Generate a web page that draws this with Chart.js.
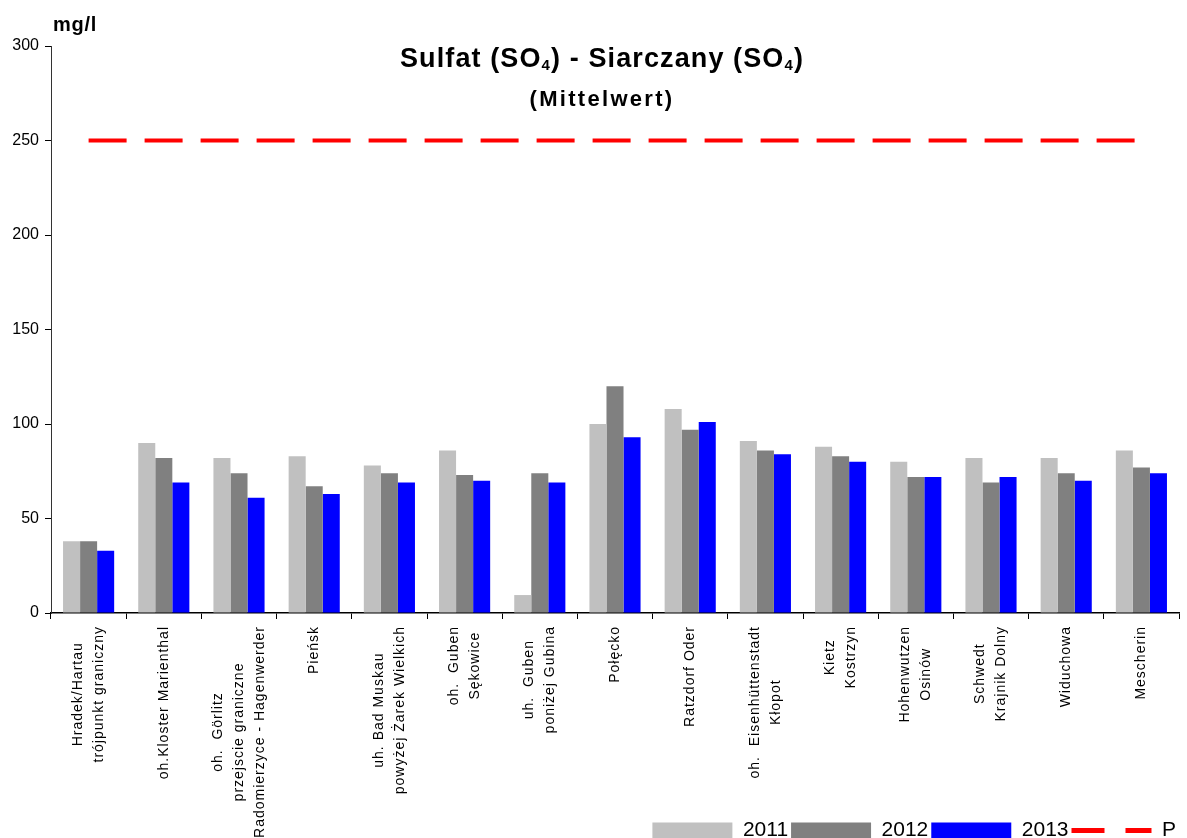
<!DOCTYPE html>
<html>
<head>
<meta charset="utf-8">
<script src="https://cdn.jsdelivr.net/npm/chart.js@4"></script>
<style>
  html, body { margin: 0; padding: 0; overflow: hidden; background: #fff; }
  #wrap { width: 1187px; height: 851px; }
</style>
</head>
<body>
<div id="wrap"><canvas id="myChart"></canvas></div>
<script>
// station names (one entry per line of the label)
var stations = [
  ["Hradek/Hartau", "trójpunkt graniczny"],
  ["oh.Kloster Marienthal"],
  ["oh.  Görlitz", "przejscie graniczne", "Radomierzyce - Hagenwerder"],
  ["Pieńsk"],
  ["uh. Bad Muskau", "powyżej Żarek Wielkich"],
  ["oh.  Guben", "Sękowice"],
  ["uh.  Guben", "poniżej Gubina"],
  ["Połęcko"],
  ["Ratzdorf Oder"],
  ["oh.  Eisenhüttenstadt", "Kłopot"],
  ["Kietz", "Kostrzyn"],
  ["Hohenwutzen", "Osinów"],
  ["Schwedt", "Krajnik Dolny"],
  ["Widuchowa"],
  ["Mescherin"]
];

// mean values mg/l
var values2011 = [38, 90, 82, 83, 78, 86, 9.5, 100, 108, 91, 88, 80, 82, 82, 86];
var values2012 = [38, 82, 74, 67, 74, 73, 74, 120, 97, 86, 83, 72, 69, 74, 77];
var values2013 = [33, 69, 61, 63, 69, 70, 69, 93, 101, 84, 80, 72, 72, 70, 74];
var limitValues = [250, 250, 250, 250, 250, 250, 250, 250, 250, 250, 250, 250, 250, 250, 250];

var yTicks = [0, 50, 100, 150, 200, 250, 300];

var FONT = "'Liberation Sans', Arial, sans-serif";

// spreads letters so a run of text fills the given width
function fitSpacing(ctx, parts, target) {
  var w = 0, n = 0;
  ctx.letterSpacing = "0px";
  parts.forEach(function (p) {
    ctx.font = p.font;
    w += ctx.measureText(p.text).width;
    n += p.text.length;
  });
  return Math.max(0, (target - w) / n);
}

function drawRun(ctx, parts, cx, baseline, target) {
  var sp = fitSpacing(ctx, parts, target);
  ctx.letterSpacing = sp + "px";
  var total = 0;
  parts.forEach(function (p) {
    ctx.font = p.font;
    total += ctx.measureText(p.text).width;
  });
  var x = cx - total / 2;
  ctx.textAlign = "left";
  parts.forEach(function (p) {
    ctx.font = p.font;
    ctx.fillText(p.text, x, baseline + (p.dy || 0));
    x += ctx.measureText(p.text).width;
  });
  ctx.letterSpacing = "0px";
}

// draws title, unit and the rotated station labels
var textPlugin = {
  id: "texts",
  afterDraw: function (chart) {
    var ctx = chart.ctx;
    var area = chart.chartArea;
    var xScale = chart.scales.x;

    ctx.save();
    ctx.fillStyle = "#000";
    ctx.textBaseline = "alphabetic";

    // unit
    drawRun(ctx, [{ text: "mg/l", font: "bold 20px " + FONT }], 75, 31, 44);

    // title with subscripts
    var big = "bold 27px " + FONT;
    var small = "bold 15px " + FONT;
    drawRun(ctx, [
      { text: "Sulfat (SO", font: big },
      { text: "4", font: small, dy: 3 },
      { text: ") - Siarczany (SO", font: big },
      { text: "4", font: small, dy: 3 },
      { text: ")", font: big }
    ], 602, 67, 404);

    drawRun(ctx, [{ text: "(Mittelwert)", font: "bold 22px " + FONT }], 602, 106, 145);

    // station labels, rotated, lines centred on each other
    ctx.font = "14px " + FONT;
    ctx.letterSpacing = "1px";
    ctx.textBaseline = "middle";
    var lineH = 21;
    stations.forEach(function (lines, i) {
      var cx = xScale.getPixelForValue(i);
      var maxW = 0;
      lines.forEach(function (l) {
        maxW = Math.max(maxW, ctx.measureText(l).width);
      });
      var cy = area.bottom + 13 + maxW / 2;
      lines.forEach(function (l, j) {
        var lx = cx + (j - (lines.length - 1) / 2) * lineH;
        ctx.save();
        ctx.translate(lx, cy);
        ctx.rotate(-Math.PI / 2);
        ctx.textAlign = "center";
        ctx.fillText(l, 0, 0);
        ctx.restore();
      });
    });
    ctx.restore();
  }
};

var ctx = document.getElementById("myChart").getContext("2d");

var chart = new Chart(ctx, {
  type: "bar",
  data: {
    labels: stations,
    datasets: [
      {
        label: "2011",
        data: values2011,
        backgroundColor: "#c0c0c0",
        borderWidth: 0,
        pointStyle: "rect"
      },
      {
        label: "2012",
        data: values2012,
        backgroundColor: "#808080",
        borderWidth: 0,
        pointStyle: "rect"
      },
      {
        label: "2013",
        data: values2013,
        backgroundColor: "#0000ff",
        borderWidth: 0,
        pointStyle: "rect"
      },
      {
        type: "line",
        label: "P",
        data: limitValues,
        borderColor: "#ff0000",
        backgroundColor: "#ff0000",
        borderWidth: 4,
        borderDash: [38, 18],
        pointRadius: 0,
        pointStyle: "line",
        fill: false
      }
    ]
  },
  options: {
    responsive: true,
    maintainAspectRatio: false,
    animation: false,
    datasets: {
      bar: {
        categoryPercentage: 0.68,
        barPercentage: 1.0
      }
    },
    layout: {
      padding: { top: 46, right: 8, left: 0, bottom: 0 }
    },
    plugins: {
      tooltip: { enabled: false },
      title: { display: false },
      legend: {
        position: "bottom",
        align: "end",
        labels: {
          usePointStyle: true,
          pointStyleWidth: 80,
          boxHeight: 16,
          padding: 3,
          color: "#000",
          font: { family: FONT, size: 21 },
          generateLabels: function (chart) {
            var items = Chart.defaults.plugins.legend.labels.generateLabels(chart);
            items.forEach(function (item) {
              var ds = chart.data.datasets[item.datasetIndex];
              if (ds.type === "line") {
                item.lineDash = [33, 21];
                item.lineWidth = 5;
                item.strokeStyle = ds.borderColor;
              }
            });
            return items;
          }
        }
      }
    },
    scales: {
      x: {
        afterFit: function (scale) {
          scale.height = 204;
        },
        grid: {
          offset: true,
          drawOnChartArea: false,
          drawTicks: true,
          tickLength: 6,
          color: "#000"
        },
        border: { color: "#000", width: 1.5 },
        ticks: { display: false }
      },
      y: {
        min: 0,
        max: 300,
        afterFit: function (scale) {
          scale.width = 51;
        },
        afterBuildTicks: function (scale) {
          scale.ticks = yTicks.map(function (v) { return { value: v }; });
        },
        grid: {
          drawOnChartArea: false,
          drawTicks: true,
          tickLength: 6,
          color: "#000"
        },
        border: { color: "#333", width: 1 },
        ticks: {
          padding: 6,
          color: "#000",
          font: { family: FONT, size: 16 }
        }
      }
    }
  },
  plugins: [textPlugin]
});
</script>
</body>
</html>
